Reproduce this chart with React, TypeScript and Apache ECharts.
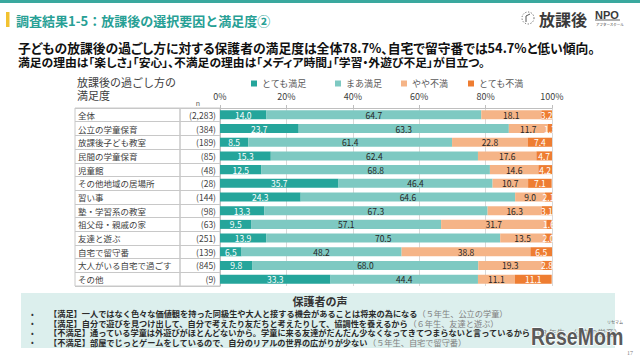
import React, { useEffect, useRef } from "react";
import * as echarts from "echarts";

const categories = [
  "全体",
  "公立の学童保育",
  "放課後子ども教室",
  "民間の学童保育",
  "児童館",
  "その他地域の居場所",
  "習い事",
  "塾・学習系の教室",
  "祖父母・親戚の家",
  "友達と遊ぶ",
  "自宅で留守番",
  "大人がいる自宅で過ごす",
  "その他",
];
const sampleSizes = ["(2,283)", "(384)", "(189)", "(85)", "(48)", "(28)", "(144)", "(98)", "(63)", "(251)", "(139)", "(845)", "(9)"];
const seriesNames = ["とても満足", "まあ満足", "やや不満", "とても不満"];
const verySatisfied = [14.0, 23.7, 8.5, 15.3, 12.5, 35.7, 24.3, 13.3, 9.5, 13.9, 6.5, 9.8, 33.3];
const satisfied = [64.7, 63.3, 61.4, 62.4, 68.8, 46.4, 64.6, 67.3, 57.1, 70.5, 48.2, 68.0, 44.4];
const dissatisfied = [18.1, 11.7, 22.8, 17.6, 14.6, 10.7, 9.0, 16.3, 31.7, 13.5, 38.8, 19.3, 11.1];
const veryDissatisfied = [3.2, 1.3, 7.4, 4.7, 4.2, 7.1, 2.1, 3.1, 1.6, 2.0, 6.5, 2.8, 11.1];
const seriesValues = [verySatisfied, satisfied, dissatisfied, veryDissatisfied];
const seriesColors = ["#25a59b", "#7ec9c2", "#f5b487", "#ee7d32"];
const labelColors = ["#ffffff", "#262626", "#262626", "#ffffff"];
const legendLefts = [251, 335, 401, 468];

const titleText = "調査結果1-5：放課後の選択要因と満足度②";
const subtitleLines = [
  "子どもの放課後の過ごし方に対する保護者の満足度は全体78.7%、自宅で留守番では54.7%と低い傾向。",
  "満足の理由は「楽しさ」「安心」、不満足の理由は「メディア時間」「学習・外遊び不足」が目立つ。",
];
const subtitleSizes = [12.8, 11.8];
const voiceMain = [
  "【満足】一人ではなく色々な価値観を持った同級生や大人と接する機会があることは将来の為になる",
  "【満足】自分で遊びを見つけ出して、自分で考えたり友だちと考えたりして、協調性を養えるから",
  "【不満足】通っている学童は外遊びがほとんどないから。学童に来る友達がだんだん少なくなってきてつまらないと言っているから",
  "【不満足】部屋でじっとゲームをしているので、自分のリアルの世界の広がりが少ない",
];
const voiceNote = ["（５年生、公立の学童）", "（６年生、友達と遊ぶ）", "（３年生、公立の学童）", "（５年生、自宅で留守番）"];

const JP = "'Noto Sans CJK JP', sans-serif";
const JPP = "palt, 'Noto Sans CJK JP', sans-serif";

export default function App() {
  const ref = useRef<HTMLDivElement>(null);
  useEffect(() => {
    if (!ref.current) return;
    const chart = echarts.init(ref.current, undefined, { renderer: "svg" });
    const voiceY = [313, 322.5, 332, 341.5];
    const graphic: any[] = [
      { type: "rect", shape: { x: 0, y: 0, width: 640, height: 3 }, style: { fill: "#3aa89e" } },
      { type: "rect", shape: { x: 6, y: 12, width: 3.5, height: 15 }, style: { fill: "#f2c230" } },
      {
        type: "text", x: 16, y: 20,
        style: { text: titleText, fontSize: 13, fontWeight: "bold", fontFamily: JP, fill: "#27a095", textVerticalAlign: "middle" },
      },
      // logo
      { type: "circle", shape: { cx: 528, cy: 18, r: 6 }, style: { fill: "none", stroke: "#666", lineWidth: 1, lineDash: [1.2, 1.6] } },
      { type: "polyline", shape: { points: [[526, 22], [526, 16], [530, 14]] }, style: { fill: "none", stroke: "#555", lineWidth: 1 } },
      {
        type: "text", x: 539, y: 19,
        style: { text: "放課後", fontSize: 16, fontWeight: "bold", fontFamily: JP, fill: "#3a3a3a", textVerticalAlign: "middle" },
      },
      {
        type: "text", x: 595, y: 15,
        style: { text: "NPO", fontSize: 11, fontWeight: "bold", fontFamily: "'Liberation Sans', sans-serif", fill: "#3a3a3a", textVerticalAlign: "middle" },
      },
      { type: "line", shape: { x1: 595, y1: 20, x2: 620, y2: 20 }, style: { stroke: "#3a3a3a", lineWidth: 0.8 } },
      {
        type: "text", x: 596, y: 24,
        style: { text: "アフタースクール", fontSize: 3.5, fontFamily: JP, fill: "#3a3a3a", textVerticalAlign: "middle" },
      },
      // subtitle
      ...subtitleLines.map((t, i) => ({
        type: "text", x: 18, y: 47 + i * 14,
        style: { text: t, fontSize: subtitleSizes[i], fontWeight: "bold", fontFamily: JPP, fill: "#111", textVerticalAlign: "middle" },
      })),
      // chart title
      {
        type: "text", x: 77, y: 82,
        style: { text: "放課後の過ごし方の", fontSize: 11, fontFamily: JP, fill: "#404040", textVerticalAlign: "middle" },
      },
      {
        type: "text", x: 77, y: 95,
        style: { text: "満足度", fontSize: 11, fontFamily: JP, fill: "#404040", textVerticalAlign: "middle" },
      },
      {
        type: "text", x: 198, y: 103,
        style: { text: "n", fontSize: 7, fontFamily: JP, fill: "#595959", textAlign: "center", textVerticalAlign: "middle" },
      },
      // voices box
      { type: "rect", shape: { x: 21, y: 293, width: 594, height: 55 }, style: { fill: "#dcefed" } },
      {
        type: "text", x: 320, y: 301,
        style: { text: "保護者の声", fontSize: 11, fontWeight: "bold", fontFamily: JP, fill: "#333", textAlign: "center", textVerticalAlign: "middle" },
      },
      ...voiceMain.map((t, i) => ({
        type: "text", x: 31, y: voiceY[i],
        style: { text: "•", fontSize: 8, fontFamily: JP, fill: "#333", textVerticalAlign: "middle" },
      })),
      ...voiceMain.map((t, i) => ({
        type: "text", x: 49, y: voiceY[i],
        style: {
          text: `{m|${t}}{g|${voiceNote[i]}}`,
          textVerticalAlign: "middle",
          rich: {
            m: { fontSize: 8.2, lineHeight: 9, fontWeight: "bold", fontFamily: JP, fill: "#2b2b2b", color: "#2b2b2b" },
            g: { fontSize: 8.2, lineHeight: 9, fontFamily: JP, fill: "#808080", color: "#808080" },
          },
        },
      })),
      // watermark
      {
        type: "text", x: 531, y: 337, scaleX: 0.85,
        style: {
          text: "ReseMom", fontSize: 23, fontWeight: "bold", fontFamily: "'Liberation Sans', sans-serif",
          fill: "#5a5a5a", stroke: "#ffffff", lineWidth: 1.5, textVerticalAlign: "middle",
        },
      },
      {
        type: "text", x: 607, y: 322,
        style: { text: "リセマム", fontSize: 4, fontFamily: JP, fill: "#5a5a5a", textVerticalAlign: "middle" },
      },
      {
        type: "text", x: 627, y: 353,
        style: { text: "17", fontSize: 6, fontFamily: "'Liberation Serif', serif", fill: "#808080", textVerticalAlign: "middle" },
      },
    ];

    const option: any = {
      animation: false,
      backgroundColor: "#ffffff",
      textStyle: { fontFamily: JP },
      grid: [
        { left: 75, top: 108, width: 105, height: 178, show: true, borderColor: "#c8c8c8", borderWidth: 1, backgroundColor: "transparent" },
        { left: 180, top: 108, width: 40, height: 178, show: true, borderColor: "#c8c8c8", borderWidth: 1, backgroundColor: "transparent" },
        { left: 220, top: 108, width: 332, height: 178 },
      ],
      xAxis: [
        { gridIndex: 0, type: "value", show: false },
        { gridIndex: 1, type: "value", show: false },
        {
          gridIndex: 2, type: "value", position: "top", min: 0, max: 100, interval: 20,
          axisLabel: { formatter: "{value}%", fontSize: 9, color: "#404040", margin: 7, fontFamily: JP },
          axisLine: { show: true, lineStyle: { color: "#bfbfbf" } },
          axisTick: { show: true, length: 3, lineStyle: { color: "#bfbfbf" } },
          splitLine: { show: true, lineStyle: { color: "#d9d9d9" } },
        },
      ],
      yAxis: [
        {
          gridIndex: 0, type: "category", data: categories, inverse: true,
          axisLine: { show: false }, axisTick: { show: false },
          axisLabel: { inside: true, margin: 3, fontSize: 8.5, color: "#404040", fontFamily: JP },
          splitLine: { show: true, lineStyle: { color: "#c8c8c8" } },
        },
        {
          gridIndex: 1, type: "category", data: sampleSizes, inverse: true, position: "right",
          axisLine: { show: false }, axisTick: { show: false },
          axisLabel: { inside: true, margin: 4, fontSize: 8.5, color: "#404040", fontFamily: JP },
          splitLine: { show: true, lineStyle: { color: "#c8c8c8" } },
        },
        {
          gridIndex: 2, type: "category", data: categories, inverse: true,
          axisLine: { show: true, lineStyle: { color: "#bfbfbf" } }, axisTick: { show: false },
          axisLabel: { show: false },
          splitLine: { show: false },
        },
      ],
      legend: seriesNames.map((n, i) => ({
        data: [n], left: legendLefts[i], top: 79, padding: 0,
        icon: "rect", itemWidth: 6, itemHeight: 6,
        textStyle: { fontSize: 9, color: "#595959", fontFamily: JP },
      })),
      series: seriesNames.map((n, i) => ({
        name: n, type: "bar", stack: "total", xAxisIndex: 2, yAxisIndex: 2,
        barCategoryGap: "34%",
        data: seriesValues[i],
        itemStyle: { color: seriesColors[i] },
        label: {
          show: true, position: "inside", fontSize: 8.5, color: labelColors[i], fontFamily: JP,
          formatter: (p: any) => Number(p.value).toFixed(1),
        },
      })),
      graphic,
    };
    chart.setOption(option);
    return () => chart.dispose();
  }, []);
  return (
    <>
      <style>{`#chartbox svg text[style*="palt"]{font-feature-settings:"palt" 1 !important;}`}</style>
      <div id="chartbox" ref={ref} style={{ position: "fixed", left: 0, top: 0, width: 640, height: 360 }} />
    </>
  );
}
